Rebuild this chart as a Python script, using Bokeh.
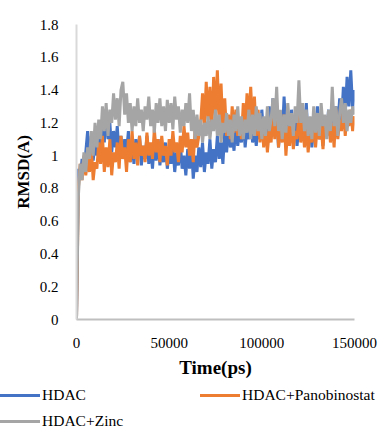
from bokeh.plotting import figure
from bokeh.layouts import column
from bokeh.models import Range1d, FixedTicker, CustomJSTickFormatter, NumeralTickFormatter, Div
from bokeh.embed import file_html
from bokeh.resources import INLINE

time_ps = list(range(0, 151000, 1000))

hdac = [0,
 0.92, 0.86, 0.98, 0.90, 1.02, 1.15, 0.95, 1.12, 0.97, 1.08,
 1.00, 1.18, 1.05, 1.22, 1.08, 1.27, 1.10, 1.20, 1.02, 1.15,
 1.05, 1.18, 1.00, 1.12, 0.98, 1.10, 1.02, 1.15, 0.96, 1.08,
 0.95, 1.10, 1.00, 1.12, 0.94, 1.06, 0.98, 1.12, 0.95, 1.05,
 0.92, 1.08, 0.97, 1.10, 0.94, 1.04, 0.96, 1.08, 0.92, 1.02,
 0.95, 1.06, 0.90, 1.02, 0.94, 1.08, 0.92, 1.00, 0.88, 1.04,
 0.92, 1.06, 0.86, 1.00, 0.90, 1.05, 0.93, 1.08, 0.90, 1.02,
 0.95, 1.10, 0.92, 1.04, 0.96, 1.12, 0.98, 1.08, 0.95, 1.15,
 1.02, 1.18, 1.05, 1.12, 1.03, 1.20, 1.06, 1.15, 1.08, 1.22,
 1.05, 1.18, 1.10, 1.25, 1.08, 1.16, 1.06, 1.20, 1.10, 1.28,
 1.12, 1.22, 1.08, 1.30, 1.15, 1.35, 1.12, 1.25, 1.05, 1.20,
 1.10, 1.36, 1.15, 1.24, 1.08, 1.28, 1.12, 1.22, 1.06, 1.18,
 1.10, 1.26, 1.14, 1.32, 1.08, 1.22, 1.05, 1.18, 1.12, 1.30,
 1.10, 1.20, 1.06, 1.24, 1.12, 1.28, 1.10, 1.22, 1.15, 1.30,
 1.18, 1.35, 1.20, 1.42, 1.25, 1.48, 1.30, 1.52, 1.28, 1.40]

hdac_pano = [0,
 0.80, 0.95, 0.85, 1.00, 0.88, 0.98, 0.90, 1.05, 0.85, 0.96,
 0.92, 1.08, 0.95, 1.12, 0.90, 1.05, 0.93, 1.10, 0.88, 1.02,
 0.96, 1.08, 0.92, 1.12, 0.98, 1.05, 0.90, 1.10, 0.96, 1.15,
 0.98, 1.08, 0.94, 1.12, 1.00, 1.06, 0.96, 1.14, 1.00, 1.08,
 0.98, 1.16, 1.02, 1.10, 0.96, 1.12, 1.00, 1.06, 0.94, 1.10,
 1.00, 1.15, 1.02, 1.08, 0.96, 1.12, 1.02, 1.18, 1.05, 1.14,
 1.00, 1.10, 0.96, 1.16, 1.05, 1.12, 1.20, 1.38, 1.18, 1.45,
 1.22, 1.42, 1.15, 1.48, 1.25, 1.52, 1.20, 1.44, 1.15, 1.35,
 1.12, 1.25, 1.10, 1.30, 1.14, 1.28, 1.12, 1.22, 1.10, 1.32,
 1.15, 1.38, 1.20, 1.42, 1.18, 1.36, 1.12, 1.28, 1.08, 1.22,
 1.05, 1.18, 1.02, 1.15, 1.08, 1.24, 1.10, 1.32, 1.05, 1.20,
 1.08, 1.25, 1.00, 1.18, 1.06, 1.22, 1.04, 1.15, 1.10, 1.26,
 1.08, 1.20, 1.05, 1.18, 1.02, 1.15, 1.08, 1.24, 1.05, 1.20,
 1.10, 1.18, 1.04, 1.22, 1.12, 1.26, 1.08, 1.20, 1.05, 1.28,
 1.10, 1.22, 1.15, 1.30, 1.12, 1.25, 1.18, 1.28, 1.15, 1.24]

hdac_zinc = [0,
 0.75, 0.95, 0.85, 1.02, 0.90, 1.05, 0.98, 1.15, 1.00, 1.20,
 1.05, 1.22, 1.10, 1.30, 1.15, 1.32, 1.12, 1.28, 1.20, 1.38,
 1.22, 1.35, 1.18, 1.40, 1.45, 1.25, 1.38, 1.20, 1.32, 1.15,
 1.30, 1.18, 1.35, 1.20, 1.28, 1.15, 1.30, 1.22, 1.36, 1.18,
 1.28, 1.14, 1.32, 1.20, 1.35, 1.18, 1.30, 1.15, 1.34, 1.20,
 1.32, 1.16, 1.36, 1.22, 1.30, 1.14, 1.28, 1.18, 1.32, 1.20,
 1.38, 1.15, 1.28, 1.10, 1.25, 1.12, 1.22, 1.08, 1.20, 1.12,
 1.24, 1.10, 1.22, 1.15, 1.28, 1.12, 1.25, 1.08, 1.20, 1.14,
 1.26, 1.12, 1.22, 1.08, 1.25, 1.15, 1.30, 1.12, 1.24, 1.10,
 1.22, 1.14, 1.28, 1.10, 1.25, 1.12, 1.30, 1.15, 1.26, 1.10,
 1.24, 1.12, 1.30, 1.15, 1.22, 1.35, 1.18, 1.42, 1.15, 1.28,
 1.10, 1.25, 1.14, 1.32, 1.18, 1.26, 1.12, 1.30, 1.20, 1.46,
 1.20, 1.32, 1.15, 1.28, 1.12, 1.24, 1.10, 1.30, 1.14, 1.26,
 1.12, 1.32, 1.18, 1.25, 1.10, 1.28, 1.15, 1.42, 1.18, 1.30,
 1.12, 1.26, 1.35, 1.20, 1.32, 1.15, 1.28, 1.20, 1.30, 1.25]

series_names = ["HDAC", "HDAC+Panobinostat", "HDAC+Zinc"]
series_colors = ["#4472C4", "#ED7D31", "#A5A5A5"]
x_ticks = [0, 50000, 100000, 150000]
y_ticks = [0, 0.2, 0.4, 0.6, 0.8, 1.0, 1.2, 1.4, 1.6, 1.8]

FONT = "Liberation Serif"

p = figure(width=384, height=380, output_backend="svg", toolbar_location=None,
           x_range=Range1d(0, 150000), y_range=Range1d(0, 1.8),
           min_border_left=76, min_border_right=30, min_border_top=24, min_border_bottom=61)
p.outline_line_color = None
p.xgrid.grid_line_color = None
p.ygrid.grid_line_color = None

for ys, col in zip([hdac, hdac_pano, hdac_zinc], series_colors):
    p.line(time_ps, ys, line_color=col, line_width=3)

p.xaxis.ticker = FixedTicker(ticks=x_ticks)
p.xaxis.formatter = NumeralTickFormatter(format="0")
p.yaxis.ticker = FixedTicker(ticks=y_ticks)
p.yaxis.formatter = CustomJSTickFormatter(code="return String(Math.round(tick*10)/10)")
for ax in (p.xaxis[0], p.yaxis[0]):
    ax.major_tick_line_color = None
    ax.minor_tick_line_color = None
    ax.major_label_text_font = FONT
    ax.major_label_text_font_size = "15px"
    ax.major_label_text_color = "#000000"
    ax.axis_label_text_font = FONT
    ax.axis_label_text_font_style = "bold"
    ax.axis_label_text_color = "#000000"
p.xaxis.axis_label_text_font_size = "19px"
p.yaxis.axis_label_text_font_size = "17px"
p.xaxis.axis_line_color = "#BFBFBF"
p.xaxis.axis_line_width = 2
p.yaxis.axis_line_color = "#D9D9D9"
p.yaxis.axis_line_width = 2
p.xaxis.axis_label = "Time(ps)"
p.yaxis.axis_label = "RMSD(A)"
p.xaxis.major_label_standoff = 12
p.yaxis.major_label_standoff = 12
p.xaxis.axis_label_standoff = 6
p.yaxis.axis_label_standoff = 4

# legend (layout positions only)
leg_left = [0, 200, 0]
leg_cy = [15, 15, 41]
parts = ['<div style="position:relative;width:384px;height:48px;">']
for name, colr, lx, cy in zip(series_names, series_colors, leg_left, leg_cy):
    parts.append(f'<div style="position:absolute;left:{lx}px;top:{cy - 1.5}px;width:40px;height:3px;background:{colr};"></div>')
    parts.append(f'<div style="position:absolute;left:{lx + 42}px;top:{cy - 10}px;line-height:20px;'
                 f'font-family:\'Liberation Serif\',serif;font-size:15.5px;color:#000;white-space:nowrap;">{name}</div>')
parts.append('</div>')
legend_div = Div(text="".join(parts), width=384, height=48, margin=0)

open("out.html", "w").write(file_html(column(p, legend_div, spacing=0), INLINE))
